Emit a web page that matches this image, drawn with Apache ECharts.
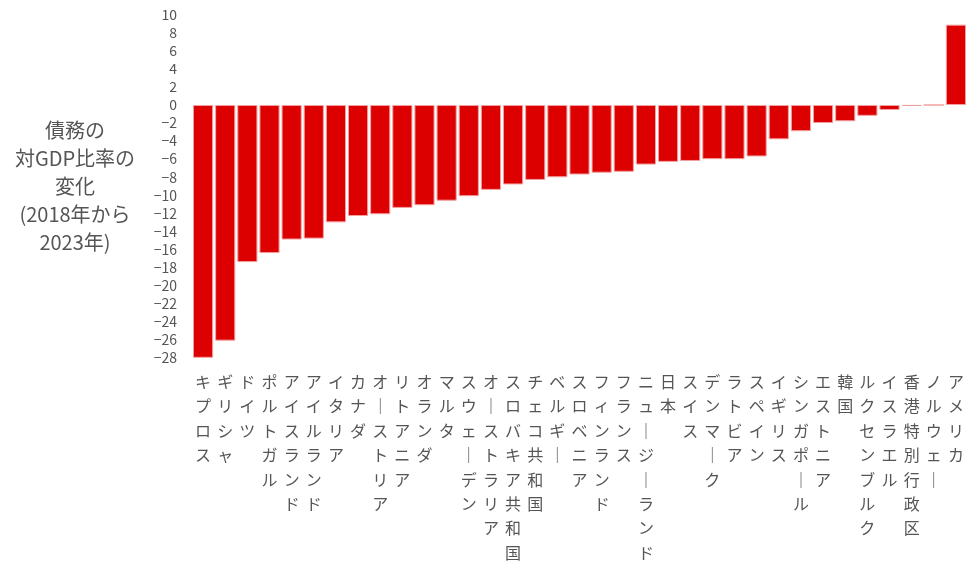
<!DOCTYPE html>
<html>
<head>
<meta charset="utf-8">
<script src="https://cdn.jsdelivr.net/npm/echarts@6/dist/echarts.min.js"></script>
<style>html,body{margin:0;padding:0;background:#fff}#c{width:969px;height:565px}</style>
</head>
<body>
<div id="c"></div>
<script>
const categories = ['キプロス','ギリシャ','ドイツ','ポルトガル','アイスランド','アイルランド','イタリア','カナダ','オーストリア','リトアニア','オランダ','マルタ','スウェーデン','オーストラリア','スロバキア共和国','チェコ共和国','ベルギー','スロベニア','フィンランド','フランス','ニュージーランド','日本','スイス','デンマーク','ラトビア','スペイン','イギリス','シンガポール','エストニア','韓国','ルクセンブルク','イスラエル','香港特別行政区','ノルウェー','アメリカ'];
const debtChange = [-28.0,-26.1,-17.4,-16.4,-14.9,-14.8,-13.0,-12.3,-12.1,-11.4,-11.1,-10.6,-10.1,-9.4,-8.8,-8.3,-8.0,-7.7,-7.5,-7.4,-6.6,-6.3,-6.2,-6.0,-6.0,-5.7,-3.8,-2.9,-2.0,-1.8,-1.2,-0.55,-0.1,0,8.9];
const axisTitle = '債務の\n対GDP比率の\n変化\n(2018年から\n2023年)';
const yMin = -28, yMax = 10, yStep = 2;

const chart = echarts.init(document.getElementById('c'), null, {renderer: 'canvas'});
const font = '"Noto Sans CJK JP", "Noto Sans", sans-serif';
chart.setOption({
  animation: false,
  backgroundColor: '#fff',
  grid: {left: 192, right: 2, top: 14.7, bottom: 203.3},
  xAxis: {
    type: 'category',
    data: categories,
    axisLine: {show: false, onZero: false},
    axisTick: {show: false},
    axisLabel: {
      interval: 0,
      margin: 12,
      color: '#555',
      fontFamily: font,
      fontSize: 16,
      lineHeight: 24.4,
      verticalAlign: 'top',
      formatter: v => v.split('').map(c => c === 'ー' ? '｜' : c).join('\n')
    }
  },
  yAxis: {
    type: 'value',
    min: yMin, max: yMax, interval: yStep,
    axisLine: {show: false},
    axisTick: {show: false},
    splitLine: {show: false},
    axisLabel: {color: '#555', fontFamily: font, fontSize: 14, margin: 15,
      formatter: v => String(v).replace('-', '−')},
    name: axisTitle,
    nameLocation: 'middle',
    nameRotate: 0,
    nameGap: 117,
    nameTextStyle: {color: '#555', fontFamily: font, fontSize: 20, lineHeight: 28, align: 'center', verticalAlign: 'middle'}
  },
  series: [{
    type: 'bar',
    data: debtChange,
    barCategoryGap: '9%',
    itemStyle: {color: '#dd0000', borderColor: '#f2a0a0', borderWidth: 1}
  }]
});
</script>
</body>
</html>
